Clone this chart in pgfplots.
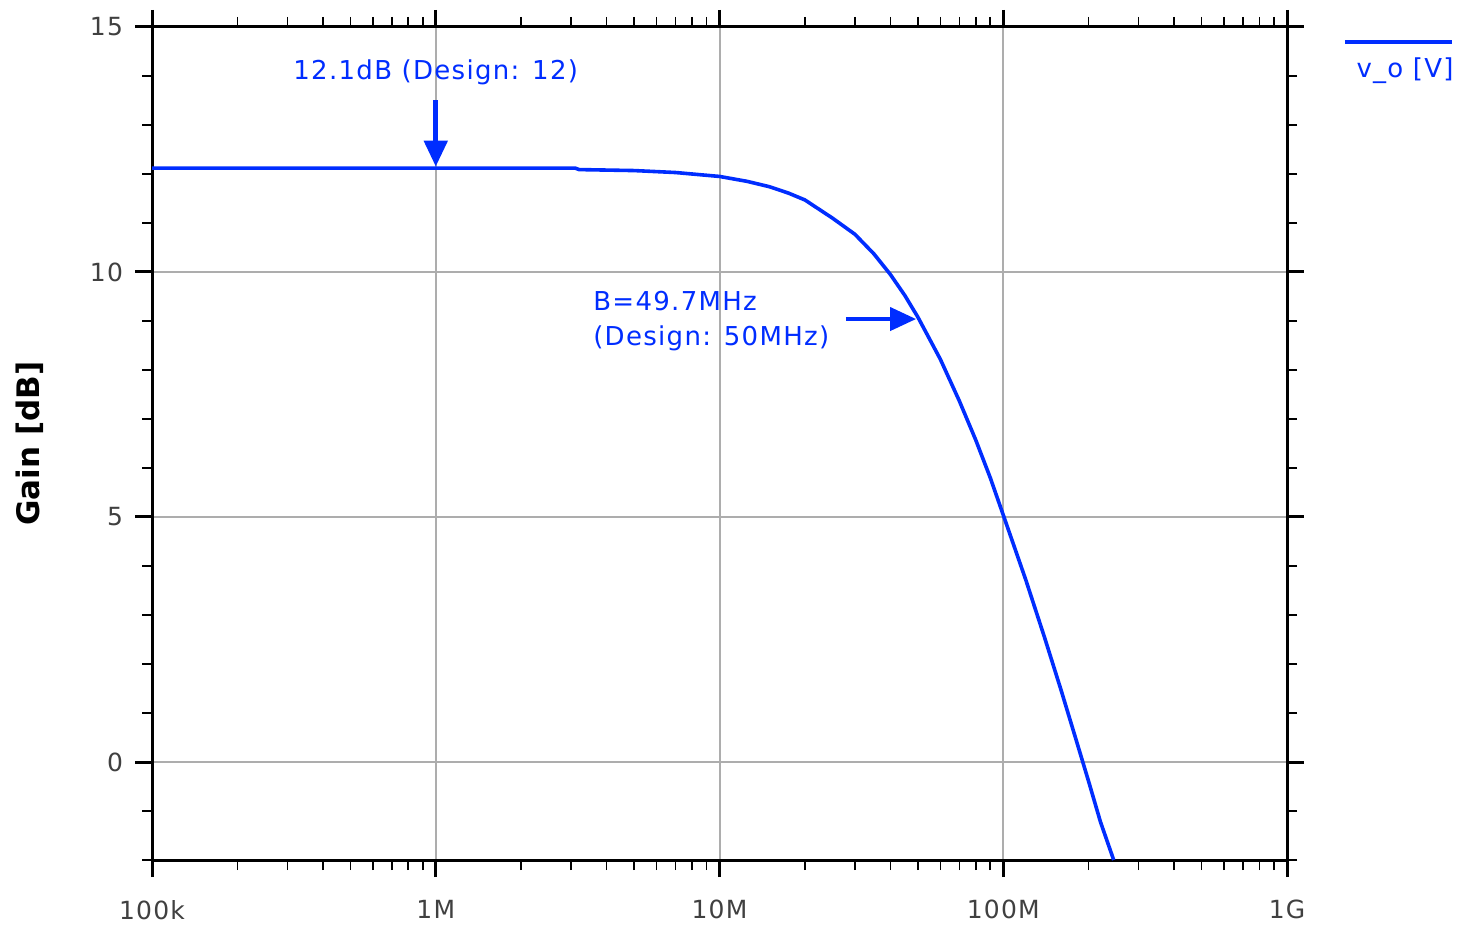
\documentclass[border=0pt]{standalone}
\usepackage{fontspec}
\setmainfont{DejaVu Sans}
\newfontfamily\annfont[LetterSpace=5]{DejaVu Sans}
\usepackage{pgfplots}
\pgfplotsset{compat=1.18}
\usetikzlibrary{arrows.meta}
\definecolor{vblue}{RGB}{0,45,255}

\begin{document}
\begin{tikzpicture}
\begin{semilogxaxis}[
  at={(0,0)}, anchor=south west,
  scale only axis, width=567.5pt, height=416.5pt,
  xmin=1e5, xmax=1e9, ymin=-2, ymax=15,
  xtick={1e5,1e6,1e7,1e8,1e9},
  xticklabels={100k,1M,10M,100M,1G},
  minor xtick={2e5,3e5,4e5,5e5,6e5,7e5,8e5,9e5,
               2e6,3e6,4e6,5e6,6e6,7e6,8e6,9e6,
               2e7,3e7,4e7,5e7,6e7,7e7,8e7,9e7,
               2e8,3e8,4e8,5e8,6e8,7e8,8e8,9e8},
  ytick={0,5,10,15},
  minor ytick={-2,-1,1,2,3,4,6,7,8,9,11,12,13,14},
  grid=major,
  major grid style={draw=black!32, line width=1pt},
  axis line style={line width=1.5pt},
  tick align=outside,
  major tick length=8.5pt,
  minor tick length=5pt,
  every major tick/.style={line width=1.5pt, black},
  every minor tick/.style={line width=0.8pt, black},
  tick label style={font=\annfont\fontsize{12.5}{14}\selectfont, text=black!75},
  xticklabel style={yshift=-8pt},
  yticklabel style={xshift=-2.5pt},
  /pgf/number format/assume math mode=true,
  ylabel={Gain [dB]},
  ylabel style={font=\fontsize{15.5}{18}\selectfont\bfseries,
    at={(axis description cs:-0.1075,0.5)}, anchor=center},
  clip=false,
]
\addplot[vblue, line width=1.8pt] coordinates {
  (1e5,12.12) (1e6,12.12) (3.1e6,12.12) (3.2e6,12.09) (5e6,12.07)
  (7e6,12.03) (1e7,11.95) (1.25e7,11.85) (1.5e7,11.74) (1.75e7,11.61)
  (2e7,11.47) (2.5e7,11.10) (3e7,10.77) (3.5e7,10.37) (4e7,9.95)
  (4.5e7,9.52) (5e7,9.08) (6e7,8.22) (7e7,7.37) (8e7,6.57)
  (9e7,5.80) (1e8,5.04) (1.2e8,3.72) (1.4e8,2.53) (1.6e8,1.46)
  (1.8e8,0.48) (2e8,-0.40) (2.2e8,-1.22) (2.45e8,-2.0)
};

\node[anchor=west, inner sep=0pt, text=vblue, font=\annfont\fontsize{13}{15}\selectfont]
  at (axis cs:3.14e5,14.08) {12.1dB (Design: 12)};
\draw[vblue, line width=2.5pt, -{Triangle[length=13pt,width=11.5pt]}]
  (axis cs:1e6,13.51) -- (axis cs:1e6,12.15);

\node[anchor=west, inner sep=0pt, text=vblue, font=\annfont\fontsize{13}{15}\selectfont]
  at (axis cs:3.58e6,9.41) {B=49.7MHz};
\node[anchor=west, inner sep=0pt, text=vblue, font=\annfont\fontsize{13}{15}\selectfont]
  at (axis cs:3.58e6,8.65) {(Design: 50MHz)};
\draw[vblue, line width=2pt, -{Triangle[length=13pt,width=11.5pt]}]
  (axis cs:2.79e7,9.04) -- (axis cs:4.93e7,9.04);

% legend: line above the entry text
\draw[vblue, line width=1.8pt] (rel axis cs:1.051,0.982) -- (rel axis cs:1.1454,0.982);
\node[text=vblue, font=\annfont\fontsize{13}{15}\selectfont]
  at (rel axis cs:1.104,0.948) {v\_o [V]};
\end{semilogxaxis}
\pgfresetboundingbox
\path (-76pt,-33pt) rectangle (659pt,430pt);
\end{tikzpicture}
\end{document}
